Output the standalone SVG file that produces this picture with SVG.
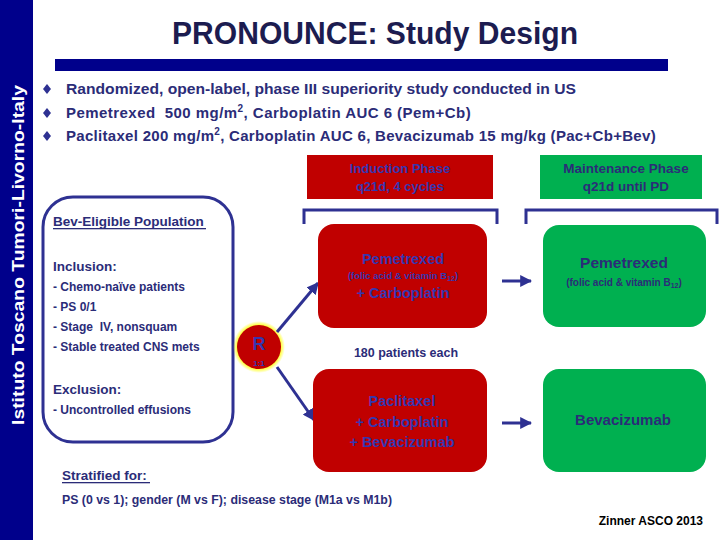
<svg xmlns="http://www.w3.org/2000/svg" width="720" height="540" viewBox="0 0 720 540">
<defs>
<style>
text{font-family:"Liberation Sans",Arial,sans-serif;font-weight:bold}
.t{fill:#2B2C78}
.b{fill:#3537B0}
.red{fill:#C00000}
.grn{fill:#00B050}
.nav{stroke:#2E3192;fill:none}
</style>
<marker id="ah" viewBox="0 0 10 10" refX="9" refY="5" markerWidth="4" markerHeight="4" orient="auto">
<path d="M0,0L10,5L0,10z" fill="#2E3192"/>
</marker>
<radialGradient id="glow" cx="0.5" cy="0.5" r="0.5">
<stop offset="0.8" stop-color="#FFFF00" stop-opacity="1"/>
<stop offset="1" stop-color="#FFFF00" stop-opacity="0"/>
</radialGradient>
<path id="dia" d="M0,-5L4,0L0,5L-4,0z" fill="#2E3192"/>
</defs>
<rect width="720" height="540" fill="#ffffff"/>
<g id="sidebar">
<rect x="0" y="0" width="33" height="540" fill="#00008B"/>
<text transform="translate(24,425) rotate(-90)" font-size="17" fill="#ffffff" textLength="340" lengthAdjust="spacingAndGlyphs">Istituto Toscano Tumori-Livorno-Italy</text>
</g>
<g id="title">
<text x="375" y="44" font-size="32" fill="#1C1C50" text-anchor="middle" textLength="406" lengthAdjust="spacingAndGlyphs">PRONOUNCE: Study Design</text>
<rect x="55" y="59" width="613" height="12" fill="#00008B"/>
</g>
<g id="bullets" font-size="15">
<use href="#dia" x="47" y="89"/>
<use href="#dia" x="47" y="113"/>
<use href="#dia" x="47" y="136"/>
<text class="t" x="66" y="94" textLength="510" lengthAdjust="spacingAndGlyphs">Randomized, open-label, phase III superiority study conducted in US</text>
<text class="t" x="66" y="118" letter-spacing="0.45" xml:space="preserve">Pemetrexed  500 mg/m<tspan font-size="10" dy="-6">2</tspan><tspan dy="6">, Carboplatin AUC 6 (Pem+Cb)</tspan></text>
<text class="t" x="66" y="141" letter-spacing="0.3">Paclitaxel 200 mg/m<tspan font-size="10" dy="-6">2</tspan><tspan dy="6">, Carboplatin AUC 6, Bevacizumab 15 mg/kg (Pac+Cb+Bev)</tspan></text>
</g>
<g id="induction-phase">
<rect class="red" x="307" y="155" width="186" height="44"/>
<text class="b" x="400" y="173" font-size="13" text-anchor="middle">Induction Phase</text>
<text class="b" x="400" y="191" font-size="13" text-anchor="middle">q21d, 4 cycles</text>
</g>
<g id="maintenance-phase">
<rect class="grn" x="540" y="155" width="162" height="44"/>
<text class="t" x="626" y="173" font-size="13.5" text-anchor="middle">Maintenance Phase</text>
<text class="t" x="626" y="191" font-size="13.5" text-anchor="middle">q21d until PD</text>
</g>
<g id="brackets" class="nav" stroke-width="3">
<path d="M304,224V210H497V224"/>
<path d="M526,224V210H717V224"/>
</g>
<g id="population">
<rect x="43" y="197" width="190" height="245" rx="30" ry="30" class="nav" stroke-width="3"/>
<text class="t" x="53" y="226" font-size="13.5">Bev-Eligible Population</text>
<rect x="53" y="228" width="153" height="1.3" fill="#2B2C78"/>
<text class="t" x="53" y="271" font-size="13.5">Inclusion:</text>
<g font-size="12">
<text class="t" x="53" y="291">- Chemo-naïve patients</text>
<text class="t" x="53" y="311">- PS 0/1</text>
<text class="t" x="53" y="331" xml:space="preserve">- Stage  IV, nonsquam</text>
<text class="t" x="53" y="351">- Stable treated CNS mets</text>
</g>
<text class="t" x="53" y="394" font-size="13.5">Exclusion:</text>
<text class="t" x="53" y="414" font-size="12">- Uncontrolled effusions</text>
</g>
<g id="randomization">
<circle cx="259" cy="347" r="26" fill="url(#glow)"/>
<circle cx="259" cy="347" r="22" fill="#C00000"/>
<text class="b" x="259" y="350" font-size="18" text-anchor="middle">R</text>
<text class="b" x="259" y="366" font-size="8" text-anchor="middle">1:1</text>
</g>
<g id="connectors" stroke="#2E3192" stroke-width="3" fill="none" marker-end="url(#ah)">
<line x1="277" y1="332" x2="318" y2="283"/>
<line x1="277" y1="367" x2="314" y2="420"/>
<line x1="502" y1="281" x2="531" y2="281"/>
<line x1="502" y1="423" x2="531" y2="423"/>
</g>
<g id="pem-carbo">
<rect class="red" x="318" y="224" width="169" height="104" rx="16"/>
<text class="b" x="403" y="264" font-size="14.5" text-anchor="middle">Pemetrexed</text>
<text class="b" x="403" y="279" font-size="9.5" text-anchor="middle">(folic acid &amp; vitamin B<tspan font-size="7" dy="2">12</tspan><tspan dy="-2">)</tspan></text>
<text class="b" x="403" y="298" font-size="14.5" text-anchor="middle">+ Carboplatin</text>
</g>
<g id="pac-carbo-bev">
<rect class="red" x="313" y="369" width="174" height="103" rx="16"/>
<text class="b" x="402" y="406" font-size="14.5" text-anchor="middle">Paclitaxel</text>
<text class="b" x="402" y="427" font-size="14.5" text-anchor="middle">+ Carboplatin</text>
<text class="b" x="402" y="447" font-size="14.5" text-anchor="middle">+ Bevacizumab</text>
</g>
<g id="pem-maint">
<rect class="grn" x="543" y="225" width="163" height="102" rx="16"/>
<text class="t" x="624" y="268" font-size="15.5" text-anchor="middle">Pemetrexed</text>
<text class="t" x="624" y="286" font-size="10" text-anchor="middle">(folic acid &amp; vitamin B<tspan font-size="7" dy="2">12</tspan><tspan dy="-2">)</tspan></text>
</g>
<g id="bev-maint">
<rect class="grn" x="543" y="369" width="163" height="103" rx="16"/>
<text class="t" x="623" y="425" font-size="15" text-anchor="middle">Bevacizumab</text>
</g>
<text class="t" x="406" y="357" font-size="12.5" text-anchor="middle">180 patients each</text>
<g id="stratified">
<text class="t" x="62" y="480" font-size="13.5">Stratified for:</text>
<rect x="62" y="482" width="88" height="1.3" fill="#2B2C78"/>
<text class="t" x="62" y="504" font-size="13" textLength="330" lengthAdjust="spacingAndGlyphs">PS (0 vs 1); gender (M vs F); disease stage (M1a vs M1b)</text>
<text x="703" y="525" font-size="12" fill="#000000" text-anchor="end">Zinner ASCO 2013</text>
</g>
</svg>
